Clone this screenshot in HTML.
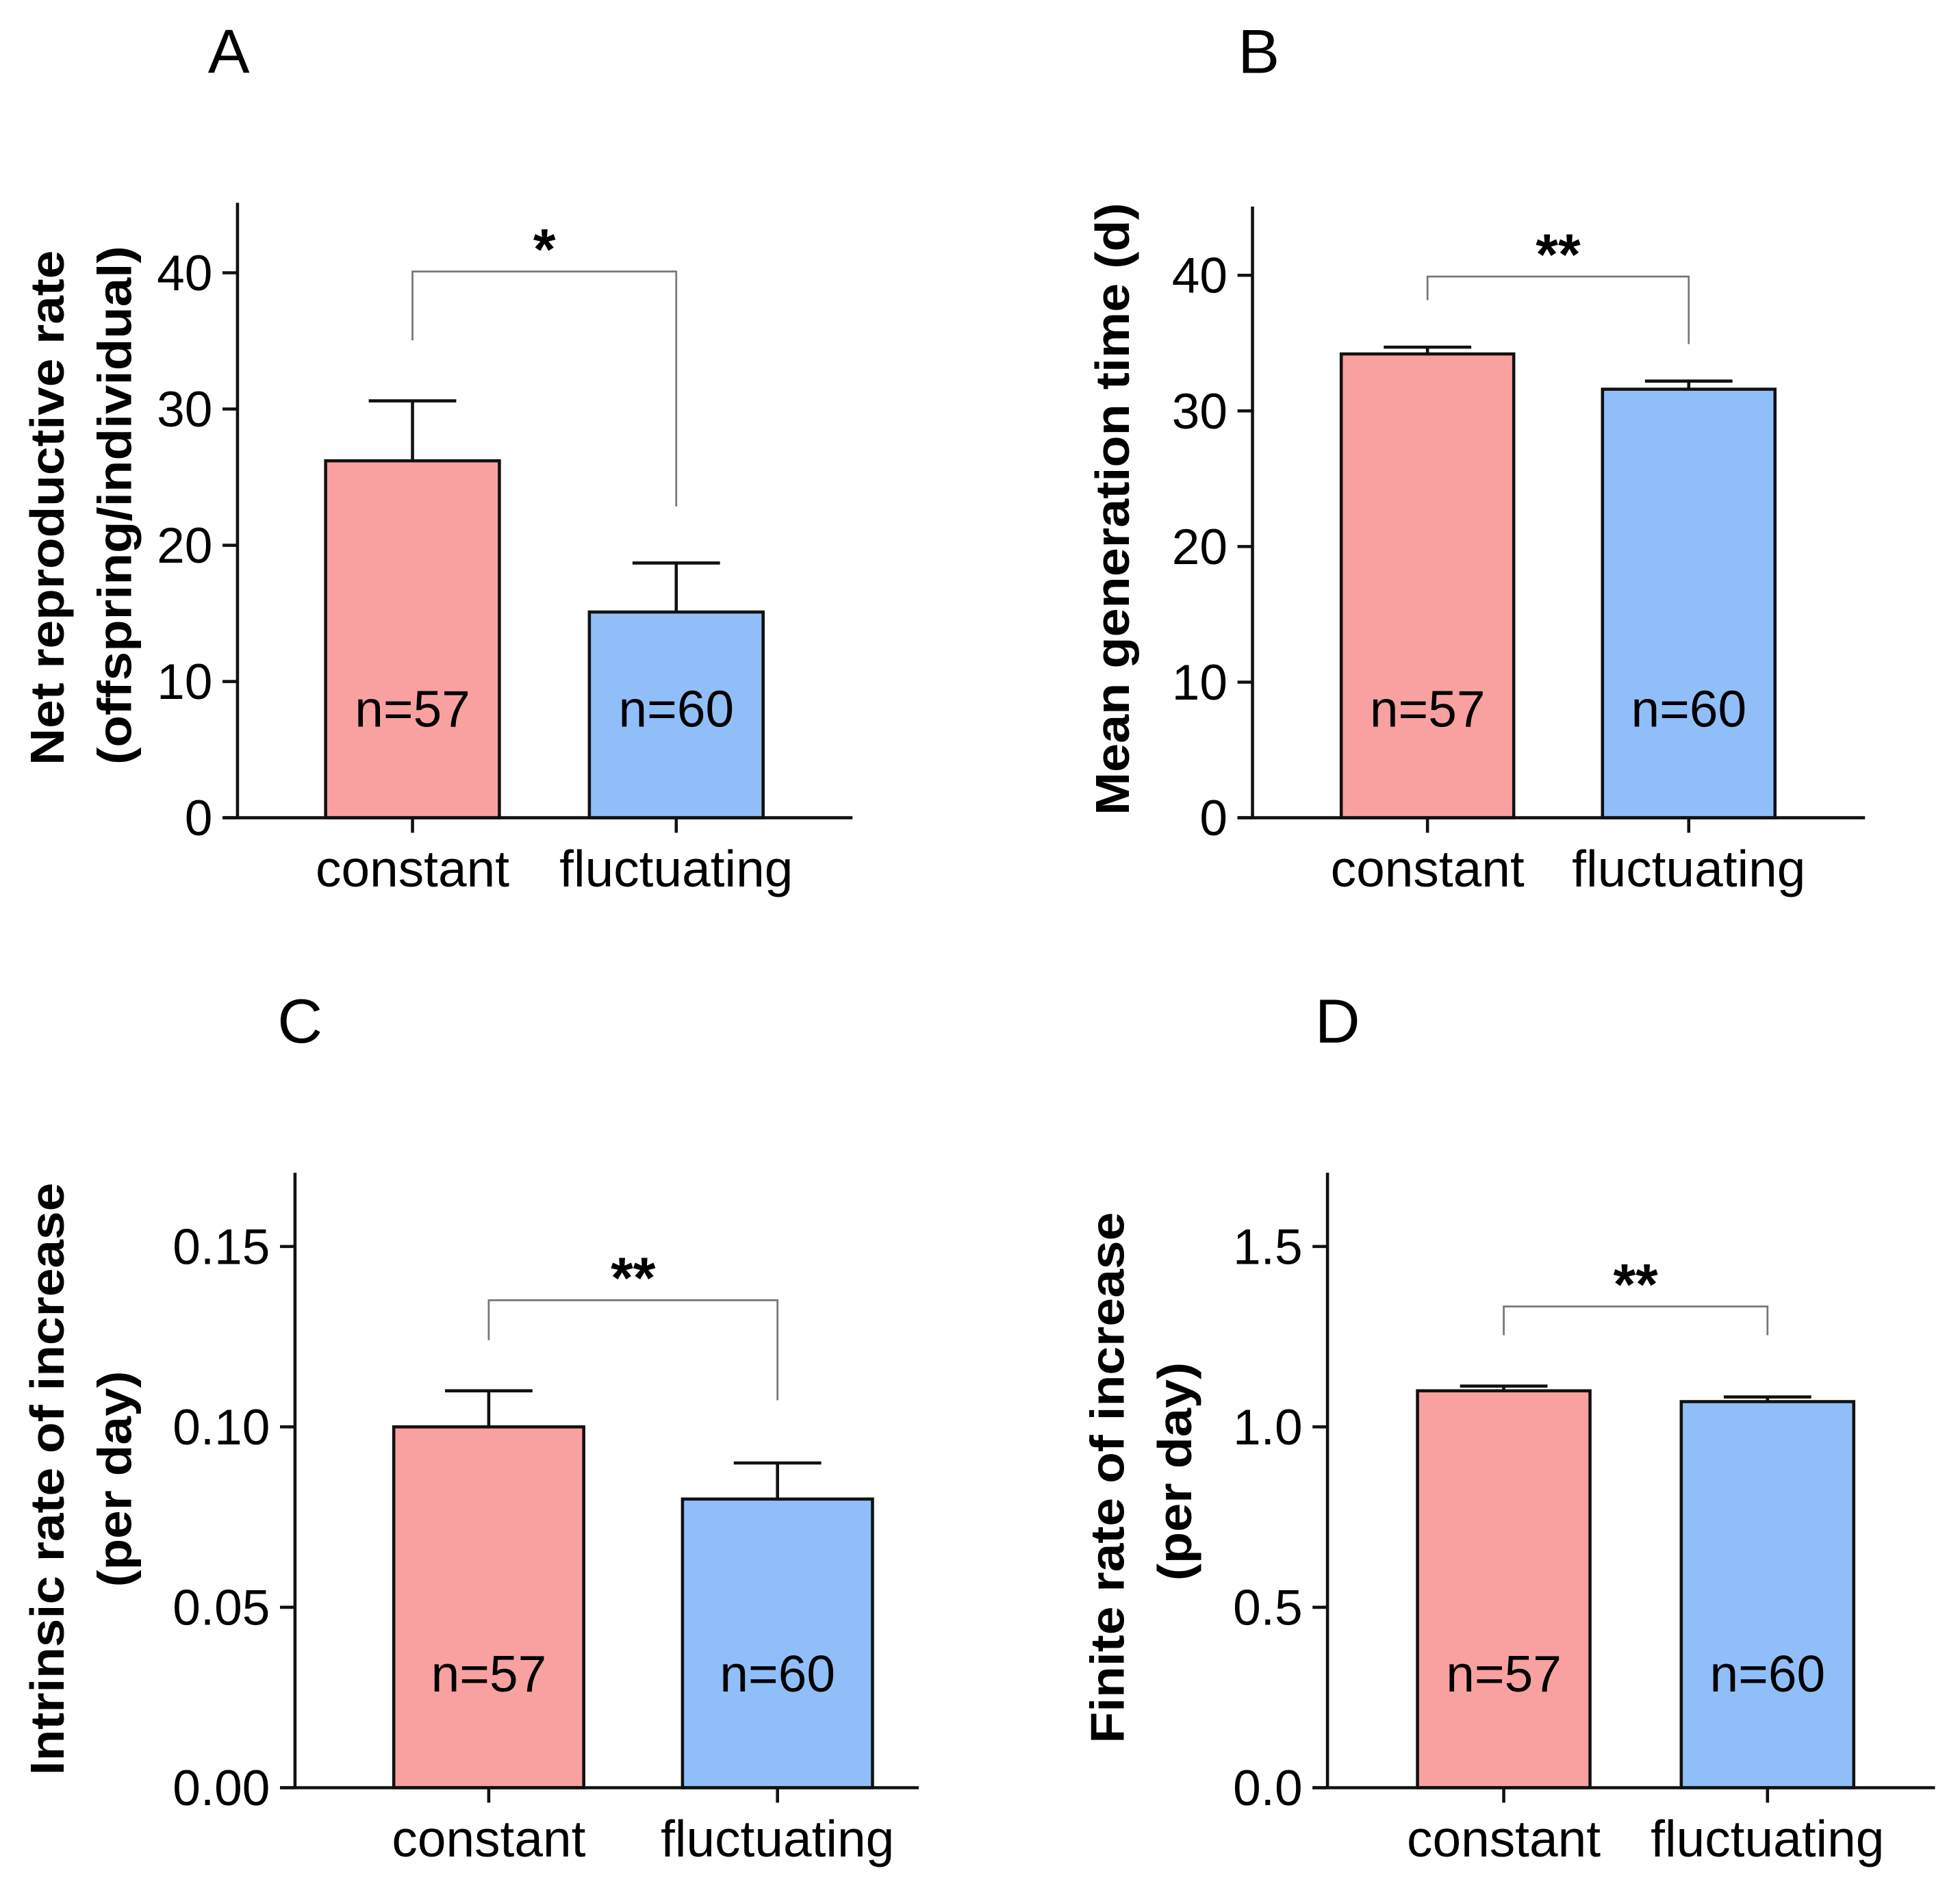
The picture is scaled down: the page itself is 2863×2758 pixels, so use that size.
<!DOCTYPE html>
<html><head><meta charset="utf-8"><style>
html,body{margin:0;padding:0;background:#fff;}
svg{display:block;font-family:"Liberation Sans",Arial,sans-serif;}
</style></head><body>
<svg id="fig" width="2863" height="2758" viewBox="0 0 1568 1510" xmlns="http://www.w3.org/2000/svg"></svg>
<script>
const categories = ["constant", "fluctuating"];
const nLabels = ["n=57", "n=60"];
const valuesA = [26.2, 15.1];
const errorsA = [4.4, 3.6];
const valuesB = [34.2, 31.6];
const errorsB = [0.5, 0.6];
const valuesC = [0.100, 0.080];
const errorsC = [0.010, 0.010];
const valuesD = [1.10, 1.07];
const errorsD = [0.013, 0.013];
const ticksA = [0, 10, 20, 30, 40];
const ticksB = [0, 10, 20, 30, 40];
const ticksC = [0, 0.05, 0.10, 0.15];
const ticksD = [0, 0.5, 1.0, 1.5];
const tickLabelsC = ["0.00", "0.05", "0.10", "0.15"];
const tickLabelsD = ["0.0", "0.5", "1.0", "1.5"];
const sigA = "*", sigB = "**", sigC = "**", sigD = "**";

const NS = "http://www.w3.org/2000/svg";
const svg = document.getElementById("fig");
function mk(tag, attrs, parent, text) {
  const e = document.createElementNS(NS, tag);
  for (const k in attrs) e.setAttribute(k, attrs[k]);
  if (text !== undefined) e.textContent = text;
  (parent || svg).appendChild(e);
  return e;
}

function panel(cfg) {
  const g = mk("g", {});
  
  
  const y = v => cfg.base - (v - 0) / cfg.max * (cfg.base - cfg.top);
  const L = mk("text", {x: cfg.letterX, y: cfg.letterY, "font-size": 50, "text-anchor": "middle"}, g, cfg.letter);
  
  
  const xs = cfg.barX;
  for (let i = 0; i < categories.length; i++) {
    const v = cfg.values[i], e = cfg.errors[i];
    const cx = xs[i], w = cfg.barW;
    const er = mk("g", {}, g);
    
    
    mk("line", {x1: cx, x2: cx, y1: y(v), y2: y(v + e), stroke: "#111", "stroke-width": 2.5}, er);
    mk("line", {x1: cx - 35, x2: cx + 35, y1: y(v + e), y2: y(v + e), stroke: "#111", "stroke-width": 2.5}, er);
    const r = mk("rect", {x: cx - w / 2, y: y(v), width: w, height: y(0) - y(v), fill: i ? "#90BEF8" : "#F9A0A0", stroke: "#111", "stroke-width": 2.5}, g);
    
    
    const t = mk("text", {x: cx, y: cfg.nY, "font-size": 41, "text-anchor": "middle"}, g, nLabels[i]);
    
    
    const tk = mk("line", {x1: cx, x2: cx, y1: cfg.base, y2: cfg.base + 12, stroke: "#111", "stroke-width": 2.5}, g);
    
    
    const c = mk("text", {x: cx, y: cfg.base + 55, "font-size": 41, "text-anchor": "middle"}, g, categories[i]);
    
    
  }
  const ya = mk("line", {x1: cfg.axX, x2: cfg.axX, y1: cfg.axTop, y2: cfg.base, stroke: "#111", "stroke-width": 2.5}, g);
  
  
  const xa = mk("line", {x1: cfg.axX - 12, x2: cfg.axRight, y1: cfg.base, y2: cfg.base, stroke: "#111", "stroke-width": 2.5}, g);
  
  
  cfg.ticks.forEach((t, j) => {
    const tl = mk("line", {x1: cfg.axX - 12, x2: cfg.axX, y1: y(t), y2: y(t), stroke: "#111", "stroke-width": 2.5}, g);
    
    
    const tx = mk("text", {x: cfg.axX - 20, y: y(t) + 14, "font-size": 40, "text-anchor": "end"}, g, cfg.tickLabels ? cfg.tickLabels[j] : String(t));
    
    
  });
  const tg = mk("g", {transform: "rotate(-90)"}, g);
  cfg.title.forEach((line, k) => {
    const tt = mk("text", {x: -cfg.titleY[k], y: cfg.titleX[k], "font-size": 38, "font-weight": "bold", "text-anchor": "middle", textLength: cfg.titleLen[k], lengthAdjust: "spacingAndGlyphs"}, tg, line);
    
    
  });
  const bk = mk("polyline", {points: `${xs[0]},${cfg.brL} ${xs[0]},${cfg.brY} ${xs[1]},${cfg.brY} ${xs[1]},${cfg.brR}`, fill: "none", stroke: "#777", "stroke-width": 1.5}, g);
  
  
  const st = mk("text", {x: (xs[0] + xs[1]) / 2, y: cfg.brY - 2, "font-size": 46, "font-weight": "bold", "text-anchor": "middle"}, g, cfg.sig);
  
  
}

panel({letter: "A", letterX: 183, letterY: 58, values: valuesA, errors: errorsA, ticks: ticksA, max: 40, top: 218, base: 654,
  axX: 190, axTop: 162, axRight: 682, barX: [330, 541], barW: 139, nY: 581,
  title: ["Net reproductive rate", "(offspring/individual)"], titleX: [51, 105], titleY: [406, 404], titleLen: [412, 415],
  brY: 217, brL: 272, brR: 405, sig: sigA});
panel({letter: "B", letterX: 1007, letterY: 58, values: valuesB, errors: errorsB, ticks: ticksB, max: 40, top: 220, base: 654,
  axX: 1002, axTop: 165, axRight: 1492, barX: [1142, 1351], barW: 138, nY: 581,
  title: ["Mean generation time (d)"], titleX: [903], titleY: [407], titleLen: [490],
  brY: 221, brL: 240, brR: 275, sig: sigB});
panel({letter: "C", letterX: 240, letterY: 834, values: valuesC, errors: errorsC, ticks: ticksC, tickLabels: tickLabelsC, max: 0.15, top: 997, base: 1430,
  axX: 236, axTop: 938, axRight: 735, barX: [391, 622], barW: 152, nY: 1353,
  title: ["Intrinsic rate of increase", "(per day)"], titleX: [51, 105], titleY: [1183, 1183], titleLen: [474, 173],
  brY: 1040, brL: 1072, brR: 1120, sig: sigC});
panel({letter: "D", letterX: 1070, letterY: 834, values: valuesD, errors: errorsD, ticks: ticksD, tickLabels: tickLabelsD, max: 1.5, top: 997, base: 1430,
  axX: 1062, axTop: 938, axRight: 1548, barX: [1203, 1414], barW: 138, nY: 1353,
  title: ["Finite rate of increase", "(per day)"], titleX: [899, 953], titleY: [1182, 1177], titleLen: [425, 175],
  brY: 1045, brL: 1068, brR: 1068, sig: sigD});
</script>
</body></html>
